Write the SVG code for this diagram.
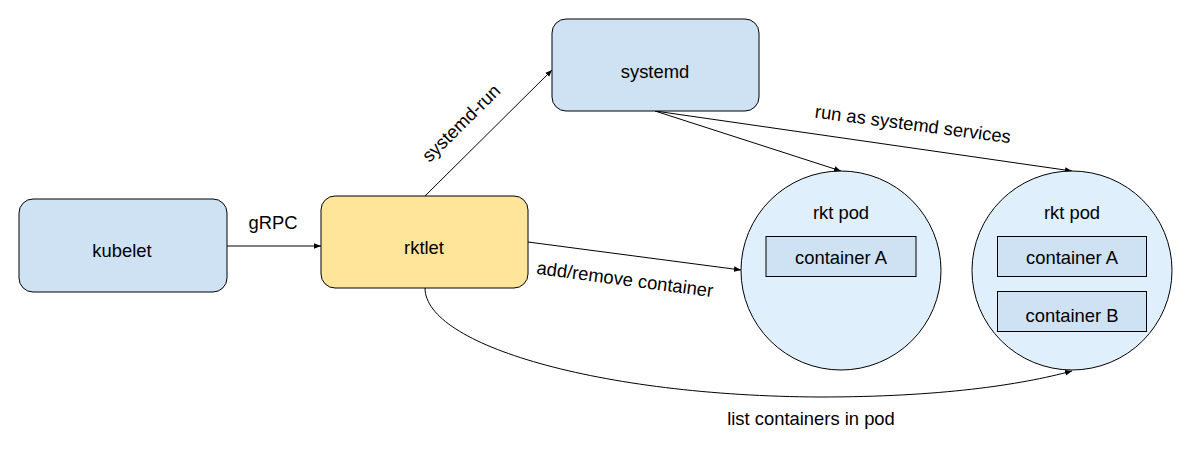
<svg xmlns="http://www.w3.org/2000/svg" width="1197" height="458" viewBox="0 0 1197 458">
<defs>
<marker id="ah" viewBox="0 0 10 10" refX="10" refY="5" markerWidth="7" markerHeight="7" markerUnits="userSpaceOnUse" orient="auto">
<path d="M0,1 L10,5 L0,9 z" fill="#000"/>
</marker>
<style>
text{font-family:"Liberation Sans",Arial,sans-serif;font-size:18.4px;fill:#000;text-anchor:middle;dominant-baseline:central}
.box{fill:#cfe2f3;stroke:#000;stroke-width:1}
.yel{fill:#ffe599;stroke:#000;stroke-width:1}
.pod{fill:#e0effc;stroke:#000;stroke-width:1}
.ctr{fill:#cfe2f3;stroke:#000;stroke-width:1}
.edge{fill:none;stroke:#000;stroke-width:1;marker-end:url(#ah)}
</style>
</defs>
<rect width="1197" height="458" fill="#fff"/>
<g id="connectors">
<line class="edge" x1="227" y1="246" x2="321" y2="246"/>
<line class="edge" x1="425" y1="196" x2="552" y2="70"/>
<line class="edge" x1="655" y1="111" x2="841" y2="171"/>
<line class="edge" x1="655" y1="111" x2="1072" y2="171"/>
<line class="edge" x1="528" y1="242" x2="741" y2="270"/>
<path class="edge" d="M425,288 C425,345 600,396 820,397 C940,397 1020,385 1072,371"/>
<text x="273" y="222">gRPC</text>
<text x="461" y="123" transform="rotate(-44.5 461 123)">systemd-run</text>
<text x="913" y="124" transform="rotate(7.5 913 124)">run as systemd services</text>
<text x="625" y="279" transform="rotate(7.5 625 279)">add/remove container</text>
<text x="811" y="418">list containers in pod</text>
</g>
<g id="kubelet">
<rect class="box" x="19" y="199" width="208" height="93" rx="14"/>
<text x="122" y="250">kubelet</text>
</g>
<g id="rktlet">
<rect class="yel" x="321" y="196" width="207" height="92" rx="14"/>
<text x="424" y="247">rktlet</text>
</g>
<g id="systemd">
<rect class="box" x="552" y="19" width="207" height="92" rx="14"/>
<text x="655" y="71">systemd</text>
</g>
<g id="pod1">
<ellipse class="pod" cx="841" cy="270.5" rx="100" ry="99.5"/>
<text x="841" y="212">rkt pod</text>
<g id="pod1-containerA">
<rect class="ctr" x="766" y="236.5" width="150" height="40"/>
<text x="841" y="257">container A</text>
</g>
</g>
<g id="pod2">
<ellipse class="pod" cx="1072" cy="270.5" rx="100" ry="99.5"/>
<text x="1072" y="212">rkt pod</text>
<g id="pod2-containerA">
<rect class="ctr" x="997.5" y="236.5" width="149" height="40"/>
<text x="1072" y="257">container A</text>
</g>
<g id="pod2-containerB">
<rect class="ctr" x="997.5" y="291.5" width="149" height="40"/>
<text x="1072" y="315">container B</text>
</g>
</g>
</svg>
